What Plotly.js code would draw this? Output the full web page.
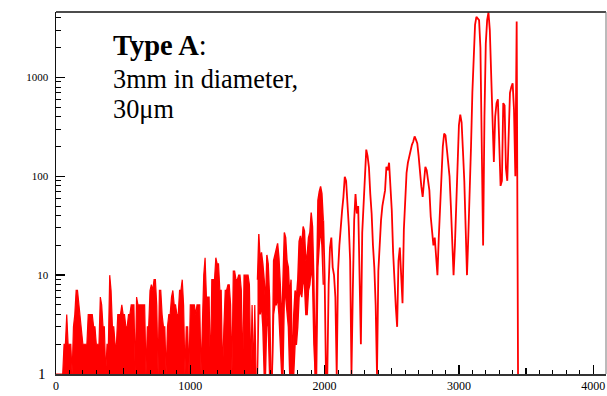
<!DOCTYPE html>
<html>
<head>
<meta charset="utf-8">
<script src="https://cdn.plot.ly/plotly-3.0.1.min.js"></script>
<style>html,body{margin:0;padding:0;background:#fff;}#chart{width:607px;height:396px;}</style>
</head>
<body>
<div id="chart"></div>
<script>
// Channel spacing of the sampled spectrum
const channelStep = 10;

// Dense low-count part (channels 0..1490): per-step maximum counts (drawn as a band down to the floor)
const envelopeStart = 0;
const envelopeMax = [
 1,1,1,1,1,1,2,2,4,2,
 2,2,1,3,4,7,7,5,4,3,
 2,2,2,2,4,4,4,4,3,3,
 2,2,2,6,5,3,3,1,2,2,
 10,7,3,3,2,2,4,4,4,5,
 4,4,3,3,4,4,5,5,5,1,
 6,5,5,5,5,5,5,1,3,3,
 7,8,7,9,9,5,1,7,7,4,
 3,3,1,3,4,4,6,7,5,5,
 4,4,7,7,9,5,1,3,3,1,
 5,5,5,5,4,5,5,5,1,3,
 10,15,6,6,6,1,9,9,9,15,
 13,13,7,7,1,3,7,7,8,8,
 5,1,11,11,9,9,10,10,7,1,
 10,10,10,10,8,1,5,1,5,1];
const floorCount = 1;

// Noisy band, channels 1500..1990: maximum and minimum counts per step
const bandStart = 1500;
const bandMax = [9,26,14,17,13,9,5,16,13,6,
 1,1,14,16,18,21,15,8,3,9,
 27,24,14,12,6,9,1,4,7,6,
 9,22,25,20,31,28,14,16,24,27,
 43,31,9,1,12,57,70,79,67,36];
const bandMin = [1,5,4,5,3,1,1,4,3,1,
 1,1,4,5,5,6,4,2,1,1,
 6,6,4,3,1,1,1,1,2,2,
 3,6,7,6,9,8,4,4,7,8,
 12,9,2,1,1,12,20,30,20,8];

// Counts, channels 2000..2990
const countsC = [10,1,1,8,19,24,12,10,6,1,
 11,20,34,45,62,99,90,56,31,14,
 1,7,36,66,42,50,11,2,27,50,
 125,186,160,123,66,42,20,12,5,1,
 11,23,36,50,62,72,125,115,137,83,
 45,17,7.6,4.8,3,14,19,11,5.2,29,
 66,108,137,160,186,208,225,253,235,215,
 160,99,79,62,90,125,115,90,72,39,
 29,20,24,14,10,24,50,140,200,270,
 260,190,140,100,50,25,10,20,45,150];
// Counts, channels 3000..3440
const countsD = [330,420,350,180,90,30,10,25,60,200,
 700,2000,3400,4100,3900,3800,2000,300,20,400,
 2200,3800,4540,3000,1200,500,140,400,550,600,
 250,80,90,550,520,120,90,300,700,800,
 870,470,100,3680,1];
const lineStarts = [1990, 2000, 3000];

const xTickVals = [0, 1000, 2000, 3000, 4000];
const xTickText = ['0', '1000', '2000', '3000', '4000'];
const xMidTicks = [500, 1500, 2500, 3500];
const yTickVals = [1, 10, 100, 1000];
const pad = '<span style="font-size:16px">\u00A0</span>';
const yTickText = ['', '10' + pad, '100' + pad, '1000' + pad];
const yMinorTicks = [2,3,4,5,6,7,8,9,20,30,40,50,60,70,80,90,200,300,400,500,600,700,800,900,2000,3000,4000];

// build series
const envX = envelopeMax.map((v, i) => envelopeStart + i * channelStep);
const bandX = bandMax.map((v, i) => bandStart + i * channelStep);
const lineX = [], lineY = [];
[[bandMax[bandMax.length - 1]], countsC, countsD].forEach((arr, b) => {
  arr.forEach((v, i) => { lineX.push(lineStarts[b] + i * channelStep); lineY.push(v); });
});
const xMinorTicks = [];
for (let t = 100; t < 4100; t += 100) if (t % 500 !== 0) xMinorTicks.push(t);

const M = {l: 56, r: 1, t: 12, b: 22};
const W = 607, H = 396;
const plotH = H - M.t - M.b, plotW = W - M.l - M.r;
const pyToPaper = py => (H - M.b - py) / plotH;
const pxToPaper = px => (px - M.l) / plotW;
const serif = 'Liberation Serif, Times New Roman, serif';
const RED = '#ff0000';

const traces = [
  {x: [envX[0], envX[envX.length - 1]], y: [floorCount, floorCount], type: 'scatter', mode: 'lines',
   line: {width: 0, color: RED}, hoverinfo: 'skip', showlegend: false},
  {x: envX, y: envelopeMax, type: 'scatter', mode: 'lines', fill: 'tonexty', fillcolor: RED,
   line: {color: RED, width: 1.2}, hoverinfo: 'skip', showlegend: false},
  {x: bandX, y: bandMin, type: 'scatter', mode: 'lines', line: {color: RED, width: 1.4}, hoverinfo: 'skip', showlegend: false},
  {x: bandX, y: bandMax, type: 'scatter', mode: 'lines', fill: 'tonexty', fillcolor: RED,
   line: {color: RED, width: 1.4}, hoverinfo: 'skip', showlegend: false},
  {x: lineX, y: lineY, type: 'scatter', mode: 'lines', line: {color: RED, width: 1.8}, hoverinfo: 'skip', showlegend: false},
  {x: [], y: [], xaxis: 'x2', yaxis: 'y', type: 'scatter', mode: 'lines', showlegend: false},
  {x: [], y: [], xaxis: 'x3', yaxis: 'y', type: 'scatter', mode: 'lines', showlegend: false},
  {x: [], y: [], xaxis: 'x', yaxis: 'y2', type: 'scatter', mode: 'lines', showlegend: false}
];

const tickAxisBase = {showticklabels: false, showline: false, showgrid: false, zeroline: false, ticks: 'inside', tickcolor: '#000', tickmode: 'array'};

const layout = {
  width: W, height: H,
  margin: M,
  paper_bgcolor: '#fff', plot_bgcolor: '#fff',
  showlegend: false,
  font: {family: serif, color: '#000'},
  xaxis: {
    range: [0, 4095], tickmode: 'array', tickvals: xTickVals, ticktext: xTickText,
    ticks: 'inside', ticklen: 9, tickwidth: 1.3, tickcolor: '#000',
    showline: true, linecolor: '#333', linewidth: 2, mirror: false,
    showgrid: false, zeroline: false,
    tickfont: {family: serif, size: 12, color: '#000'}
  },
  xaxis2: Object.assign({}, tickAxisBase, {overlaying: 'x', anchor: 'y', side: 'bottom', range: [0, 4095], tickvals: xMinorTicks, ticklen: 4, tickwidth: 1}),
  xaxis3: Object.assign({}, tickAxisBase, {overlaying: 'x', anchor: 'y', side: 'bottom', range: [0, 4095], tickvals: xMidTicks, ticklen: 6.5, tickwidth: 1.2}),
  yaxis: {
    type: 'log', range: [0, 3.662], tickmode: 'array', tickvals: yTickVals, ticktext: yTickText,
    ticks: 'inside', ticklen: 9, tickwidth: 1.3, tickcolor: '#000',
    showline: true, linecolor: '#111', linewidth: 1.5, mirror: false,
    showgrid: false, zeroline: false,
    tickfont: {family: serif, size: 11, color: '#000'}
  },
  yaxis2: Object.assign({}, tickAxisBase, {overlaying: 'y', anchor: 'x', side: 'left', type: 'log', range: [0, 3.662], tickvals: yMinorTicks, ticklen: 5, tickwidth: 1}),
  shapes: [
    {type: 'line', xref: 'paper', yref: 'paper', x0: 0, x1: 1, y0: 1, y1: 1, line: {color: '#111', width: 1.5}},
    {type: 'line', xref: 'paper', yref: 'paper', x0: 1, x1: 1, y0: 0, y1: 1, line: {color: '#777', width: 1}}
  ],
  annotations: [
    {xref: 'paper', yref: 'paper', x: pxToPaper(42), y: pyToPaper(374), xanchor: 'center', yanchor: 'middle', showarrow: false,
     text: '1', font: {family: serif, size: 15, color: '#000'}},
    {xref: 'paper', yref: 'paper', x: pxToPaper(111), y: pyToPaper(46), xanchor: 'left', yanchor: 'middle', showarrow: false,
     text: '<b>Type A</b>:', font: {family: serif, size: 28.5, color: '#000'}},
    {xref: 'paper', yref: 'paper', x: pxToPaper(111), y: pyToPaper(79), xanchor: 'left', yanchor: 'middle', showarrow: false,
     text: '3mm in diameter,', font: {family: serif, size: 26.3, color: '#000'}},
    {xref: 'paper', yref: 'paper', x: pxToPaper(111), y: pyToPaper(109.8), xanchor: 'left', yanchor: 'middle', showarrow: false,
     text: '30μm', font: {family: serif, size: 26.3, color: '#000'}}
  ]
};

Plotly.newPlot('chart', traces, layout, {staticPlot: true, displayModeBar: false});
</script>
</body>
</html>
